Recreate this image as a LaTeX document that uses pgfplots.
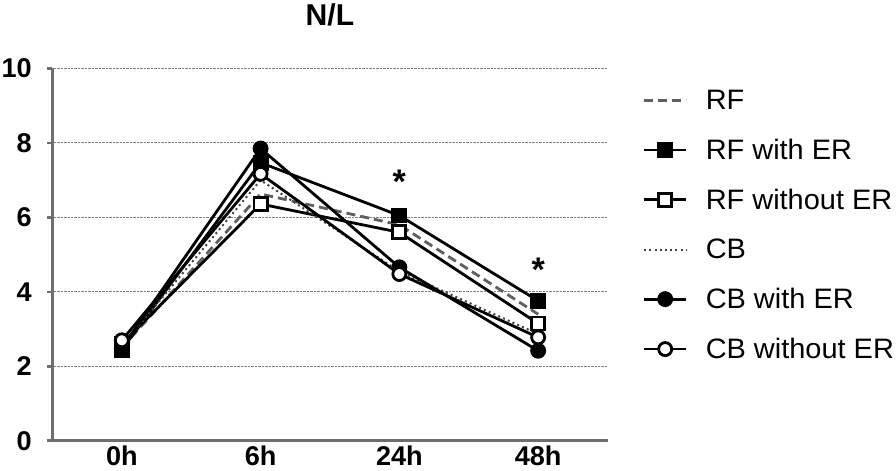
\documentclass[border=0pt]{standalone}
\usepackage{fontspec}
\setmainfont{Liberation Sans}
\usepackage{graphicx}
\usepackage{pgfplots}
\pgfplotsset{compat=1.18}
\definecolor{axgray}{RGB}{110,110,110}
\definecolor{dashgray}{RGB}{95,95,95}
\newcommand{\lt}[1]{\hspace*{16pt}\scalebox{1.03}[1]{#1}}
\begin{document}
\begin{tikzpicture}
\begin{axis}[
  scale only axis, width=553pt, height=371pt,
  xmin=-0.5, xmax=3.5, ymin=0, ymax=10,
  axis lines*=left,
  axis line style={axgray, line width=2.8pt},
  xtick={0,1,2,3}, xticklabels={0h,6h,24h,48h},
  ytick={0,2,4,6,8,10},
  x tick style={draw=none},
  y tick style={axgray, line width=2.8pt},
  tick align=outside, major tick length=5pt,
  ymajorgrids, grid style={densely dotted, gray, line width=0.9pt},
  /pgf/number format/assume math mode=true,
  tick label style={font=\fontsize{27}{27}\selectfont\bfseries, inner sep=1.5pt},
  xticklabel style={inner ysep=4.5pt, yshift=5pt},
  yticklabel style={xshift=-14pt},
  title={\fontsize{30}{30}\selectfont\bfseries N/L},
  title style={yshift=33pt},
  legend style={at={(1.063,0.948)}, anchor=north west, draw=none, fill=none,
    font=\fontsize{28}{28}\selectfont, row sep=24pt, inner sep=0pt},
  legend cell align=left,
  legend image code/.code={\draw[mark repeat=2,mark phase=2,#1] plot coordinates {(0pt,0pt)(21pt,0pt)(42pt,0pt)};},
  clip=false,
]
\addplot[dashgray, line width=2.8pt, dash pattern=on 9pt off 5pt] coordinates {(0,2.5)(1,6.63)(2,5.8)(3,3.4)};
\addlegendentry{\lt{RF}}
\addplot[black, line width=2.8pt, mark=square*, mark size=6.5pt, mark options={solid, fill=black}] coordinates {(0,2.45)(1,7.47)(2,6.05)(3,3.76)};
\addlegendentry{\lt{RF with ER}}
\addplot[black, line width=2.8pt, mark=square*, mark size=6.5pt, mark options={solid, fill=white}] coordinates {(0,2.6)(1,6.36)(2,5.6)(3,3.15)};
\addlegendentry{\lt{RF without ER}}
\addplot[black!75, line width=2pt, dash pattern=on 2pt off 3.2pt] coordinates {(0,2.55)(1,7.0)(2,4.55)(3,2.87)};
\addlegendentry{\lt{CB}}
\addplot[black, line width=2.8pt, mark=*, mark size=6.5pt, mark options={solid, fill=black}] coordinates {(0,2.5)(1,7.85)(2,4.66)(3,2.42)};
\addlegendentry{\lt{CB with ER}}
\addplot[black, line width=2.8pt, mark=*, mark size=6.5pt, mark options={solid, fill=white}] coordinates {(0,2.7)(1,7.17)(2,4.48)(3,2.78)};
\addlegendentry{\lt{CB without ER}}
\node[font=\fontsize{34}{34}\selectfont\bfseries] at (axis cs:2,6.95) {*};
\node[font=\fontsize{34}{34}\selectfont\bfseries] at (axis cs:3,4.6) {*};
\end{axis}
\end{tikzpicture}
\end{document}
